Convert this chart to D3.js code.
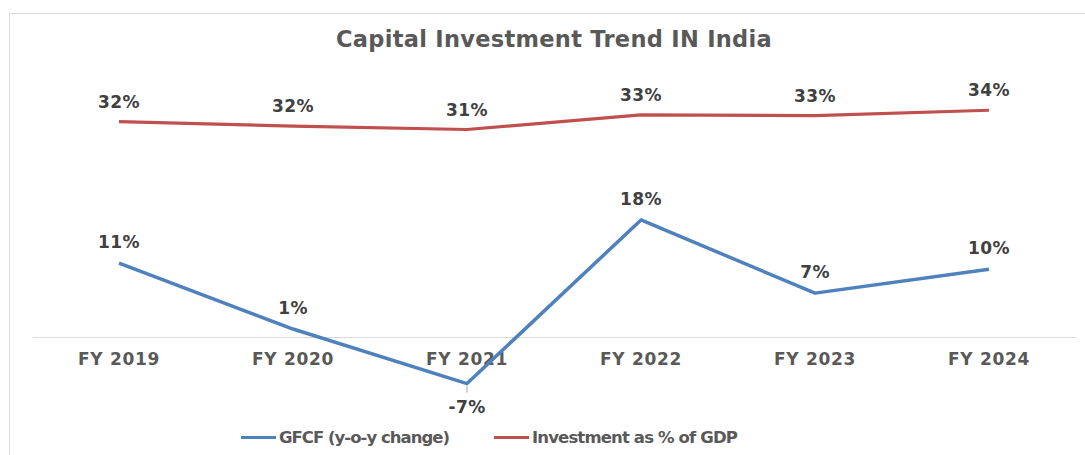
<!DOCTYPE html>
<html><head><meta charset="utf-8">
<script src="https://cdn.jsdelivr.net/npm/d3@7"></script>
<style>
html,body{margin:0;padding:0;background:#fff;}
svg text{font-family:"DejaVu Sans","Open Sans",sans-serif;font-weight:700;}
</style></head>
<body><svg id="c" width="1085" height="455"></svg>
<script>
const categories = ["FY 2019","FY 2020","FY 2021","FY 2022","FY 2023","FY 2024"];
const gfcf = [11.1, 1.2, -7.0, 17.6, 6.6, 10.2];
const gfcfLabels = ["11%","1%","-7%","18%","7%","10%"];
const invGdp = [32.4, 31.7, 31.2, 33.4, 33.3, 34.1];
const invLabels = ["32%","32%","31%","33%","33%","34%"];
const seriesNames = ["GFCF (y-o-y change)","Investment as % of GDP"];
const title = "Capital Investment Trend IN India";

const svg = d3.select("#c");
function fitGroup(sel, sampleIdx, target){
  const nodes = sel.nodes();
  sel.attr("letter-spacing",0);
  const s = nodes[sampleIdx];
  const w = s.getComputedTextLength();
  const ls = (target - w)/s.textContent.length;
  sel.attr("letter-spacing", ls);
}

svg.append("path").attr("d","M9.5,455 V13.5 H1085").attr("fill","none").attr("stroke","#d9d9d9").attr("stroke-width",1);

const tt = svg.append("text").attr("x",554).attr("y",47).attr("text-anchor","middle")
  .attr("font-size",22.5).attr("fill","#595959").text(title);
fitGroup(tt, 0, 436);

const x = d3.scaleBand().domain(categories).range([32,1076]);
const y = d3.scaleLinear().domain([-10,40]).range([337+66.5, 337-266]);

const xAxis = svg.append("g").attr("transform",`translate(0,${y(0)})`)
  .call(d3.axisBottom(x).tickSize(0));
xAxis.select(".domain").attr("stroke","#d9d9d9").attr("stroke-width",1.2);
const xt = xAxis.selectAll("text").attr("dy",null).attr("y",28).attr("font-size",17).attr("fill","#595959")
  .attr("font-family","DejaVu Sans, sans-serif").attr("font-weight",700);
fitGroup(xt, 0, 82);

const cx = d => x(d) + x.bandwidth()/2;
const line = d3.line().x((d,i)=>cx(categories[i])).y(d=>y(d));

svg.append("path").datum(invGdp).attr("d",line).attr("fill","none")
  .attr("stroke","#c0504d").attr("stroke-width",3.2).attr("stroke-linejoin","round");
svg.append("path").datum(gfcf).attr("d",line).attr("fill","none")
  .attr("stroke","#4f81bd").attr("stroke-width",3.5).attr("stroke-linejoin","round");

const il = svg.selectAll(".il").data(invGdp).join("text").attr("class","il")
  .attr("x",(d,i)=>cx(categories[i])).attr("y",d=>y(d)-14)
  .attr("text-anchor","middle").attr("font-size",17).attr("fill","#404040")
  .text((d,i)=>invLabels[i]);
fitGroup(il, 0, 42);

const gl = svg.selectAll(".gl").data(gfcf).join("text").attr("class","gl")
  .attr("x",(d,i)=>cx(categories[i])).attr("y",d=> d<0 ? y(d)+29 : y(d)-15)
  .attr("text-anchor","middle").attr("font-size",17).attr("fill","#404040")
  .text((d,i)=>gfcfLabels[i]);
gl.attr("letter-spacing", il.attr("letter-spacing"));

gfcf.forEach((d,i)=>{ if(d<0){ svg.append("line").attr("x1",cx(categories[i])).attr("x2",cx(categories[i]))
  .attr("y1",y(d)+2).attr("y2",y(d)+9).attr("stroke","#a6a6a6").attr("stroke-width",1);} });

const legColors = ["#4f81bd","#c0504d"];
const legX = [241, 494];
const legW = [170, 205];
seriesNames.forEach((n,i)=>{
  svg.append("line").attr("x1",legX[i]).attr("x2",legX[i]+35).attr("y1",437.5).attr("y2",437.5)
    .attr("stroke",legColors[i]).attr("stroke-width",3);
  const t = svg.append("text").attr("x",legX[i]+38).attr("y",443).attr("font-size",16.5).attr("fill","#595959")
    .text(n);
  fitGroup(t, 0, legW[i]);
});
</script></body></html>
